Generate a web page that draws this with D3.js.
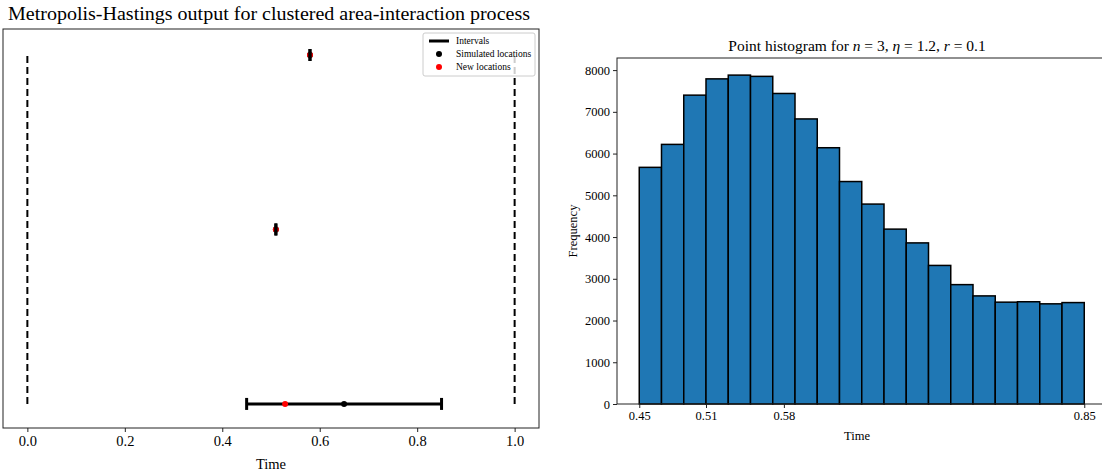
<html>
  <head>
    <script src="https://d3js.org/d3.v7.min.js"></script>
    <style>
      body { margin: 0; background: #fff; }
      text { font-family: "Liberation Serif", "DejaVu Serif", serif; fill: #000; }
      .frame { fill: none; stroke: #222; stroke-width: 1; }
      .axis .domain { display: none; }
      .axis line { stroke: #222; }
    </style>
  </head>
  <body>
    <svg id="svg1" width="1102" height="472"></svg>
    <script>
      // left panel: MH output, one row per point
      const rows = [0, 1, 2];
      const simulated = [0.65, 0.51, 0.58];
      const proposed = [0.529, 0.51, 0.58];
      const intervalLo = [0.45, 0.51, 0.58];
      const intervalHi = [0.85, 0.51, 0.58];
      const windowBounds = [0, 1];
      const leftTicks = [0.0, 0.2, 0.4, 0.6, 0.8, 1.0];

      // right panel: histogram of point locations
      const binEdges = [0.45, 0.47, 0.49, 0.51, 0.53, 0.55, 0.57, 0.59, 0.61, 0.63, 0.65,
                        0.67, 0.69, 0.71, 0.73, 0.75, 0.77, 0.79, 0.81, 0.83, 0.85];
      const counts = [5670, 6220, 7400, 7790, 7880, 7850, 7440, 6830, 6140, 5330,
                      4790, 4190, 3860, 3320, 2860, 2590, 2440, 2450, 2400, 2430];
      const histXTicks = [0.45, 0.51, 0.58, 0.85];
      const histYTicks = [0, 1000, 2000, 3000, 4000, 5000, 6000, 7000, 8000];

      const svg = d3.select("svg#svg1");

      // ---------- left panel ----------
      const L = { left: 3, right: 539, top: 29, bottom: 428 };
      const xL = d3.scaleLinear().domain([-0.05, 1.05]).range([L.left, L.right]);
      const yL = d3.scaleLinear().domain([-0.138, 2.149]).range([L.bottom, L.top]);

      const left = svg.append("g");

      left.selectAll("line.bound")
        .data(windowBounds)
        .join("line")
        .attr("class", "bound")
        .attr("x1", d => xL(d)).attr("x2", d => xL(d))
        .attr("y1", yL(0)).attr("y2", yL(2))
        .attr("stroke", "#000")
        .attr("stroke-width", 2)
        .attr("stroke-dasharray", "7,4");

      left.selectAll("line.interval")
        .data(rows)
        .join("line")
        .attr("class", "interval")
        .attr("x1", i => xL(intervalLo[i])).attr("x2", i => xL(intervalHi[i]))
        .attr("y1", i => yL(i)).attr("y2", i => yL(i))
        .attr("stroke", "#000")
        .attr("stroke-width", 3);

      left.selectAll("circle.sim")
        .data(rows)
        .join("circle")
        .attr("class", "sim")
        .attr("cx", i => xL(simulated[i]))
        .attr("cy", i => yL(i))
        .attr("r", 3)
        .attr("fill", "#000");

      left.selectAll("circle.new")
        .data(rows)
        .join("circle")
        .attr("class", "new")
        .attr("cx", i => xL(proposed[i]))
        .attr("cy", i => yL(i))
        .attr("r", 3)
        .attr("fill", "red");

      // interval caps
      const caps = rows.flatMap(i => [intervalLo[i], intervalHi[i]].map(v => ({ v, i })));
      left.selectAll("line.cap")
        .data(caps)
        .join("line")
        .attr("class", "cap")
        .attr("x1", d => xL(d.v)).attr("x2", d => xL(d.v))
        .attr("y1", d => yL(d.i) - 6).attr("y2", d => yL(d.i) + 6)
        .attr("stroke", "#000")
        .attr("stroke-width", 3);

      left.append("rect")
        .attr("class", "frame")
        .attr("x", L.left).attr("y", L.top)
        .attr("width", L.right - L.left).attr("height", L.bottom - L.top);

      const leftAxis = left.append("g")
        .attr("class", "axis")
        .attr("transform", `translate(0,${L.bottom})`)
        .call(d3.axisBottom(xL).tickValues(leftTicks).tickFormat(d3.format(".1f")).tickSize(4).tickPadding(4));
      leftAxis.selectAll("text").style("font-size", "14.5px").style("font-family", "Liberation Serif");

      left.append("text")
        .attr("x", (L.left + L.right) / 2).attr("y", 469)
        .attr("text-anchor", "middle")
        .style("font-size", "14.5px")
        .text("Time");

      left.append("text")
        .attr("x", 8).attr("y", 20)
        .attr("textLength", 522)
        .attr("lengthAdjust", "spacingAndGlyphs")
        .style("font-size", "18.5px")
        .text("Metropolis-Hastings output for clustered area-interaction process");

      // legend
      const legend = left.append("g").attr("transform", "translate(423,33)");
      legend.append("rect")
        .attr("width", 112).attr("height", 43).attr("rx", 2)
        .attr("fill", "#fff").attr("fill-opacity", 0.8)
        .attr("stroke", "#ccc");
      const legendItems = ["Intervals", "Simulated locations", "New locations"];
      const legendColors = ["#000", "#000", "red"];
      legendItems.forEach((name, k) => {
        const cy = 8 + k * 13;
        if (k === 0) {
          legend.append("line")
            .attr("x1", 6).attr("x2", 26).attr("y1", cy).attr("y2", cy)
            .attr("stroke", "#000").attr("stroke-width", 3);
        } else {
          legend.append("circle")
            .attr("cx", 16).attr("cy", cy).attr("r", 3)
            .attr("fill", legendColors[k]);
        }
        legend.append("text")
          .attr("x", 33).attr("y", cy + 3)
          .style("font-size", "9.5px")
          .text(name);
      });

      // ---------- right panel ----------
      const R = { left: 617, right: 1106.5, top: 58, bottom: 404 };
      const xR = d3.scaleLinear().domain([0.43, 0.87]).range([R.left, R.right]);
      const yR = d3.scaleLinear().domain([0, 8290]).range([R.bottom, R.top]);

      const right = svg.append("g");

      right.selectAll("rect.bar")
        .data(counts)
        .join("rect")
        .attr("class", "bar")
        .attr("x", (d, i) => xR(binEdges[i]))
        .attr("width", (d, i) => xR(binEdges[i + 1]) - xR(binEdges[i]))
        .attr("y", d => yR(d))
        .attr("height", d => yR(0) - yR(d))
        .attr("fill", "#1f77b4")
        .attr("stroke", "#000")
        .attr("stroke-width", 1.5);

      right.append("rect")
        .attr("class", "frame")
        .attr("x", R.left).attr("y", R.top)
        .attr("width", R.right - R.left).attr("height", R.bottom - R.top);

      const rx = right.append("g")
        .attr("class", "axis")
        .attr("transform", `translate(0,${R.bottom})`)
        .call(d3.axisBottom(xR).tickValues(histXTicks).tickFormat(d3.format(".2f")).tickSize(4).tickPadding(3));
      rx.selectAll("text").style("font-size", "12.5px").style("font-family", "Liberation Serif");

      const ry = right.append("g")
        .attr("class", "axis")
        .attr("transform", `translate(${R.left},0)`)
        .call(d3.axisLeft(yR).tickValues(histYTicks).tickFormat(d3.format("d")).tickSize(4).tickPadding(3));
      ry.selectAll("text").style("font-size", "12.5px").style("font-family", "Liberation Serif");

      right.append("text")
        .attr("x", (R.left + 1097) / 2).attr("y", 440)
        .attr("text-anchor", "middle")
        .style("font-size", "12.5px")
        .text("Time");

      right.append("text")
        .attr("transform", `translate(577,${(R.top + R.bottom) / 2}) rotate(-90)`)
        .attr("text-anchor", "middle")
        .style("font-size", "12.5px")
        .text("Frequency");

      const title = right.append("text")
        .attr("x", 857).attr("y", 51)
        .attr("text-anchor", "middle")
        .style("font-size", "15.5px");
      title.append("tspan").text("Point histogram for ");
      title.append("tspan").style("font-style", "italic").text("n");
      title.append("tspan").text(" = 3, ");
      title.append("tspan").style("font-style", "italic").text("η");
      title.append("tspan").text(" = 1.2, ");
      title.append("tspan").style("font-style", "italic").text("r");
      title.append("tspan").text(" = 0.1");
    </script>
  </body>
</html>
